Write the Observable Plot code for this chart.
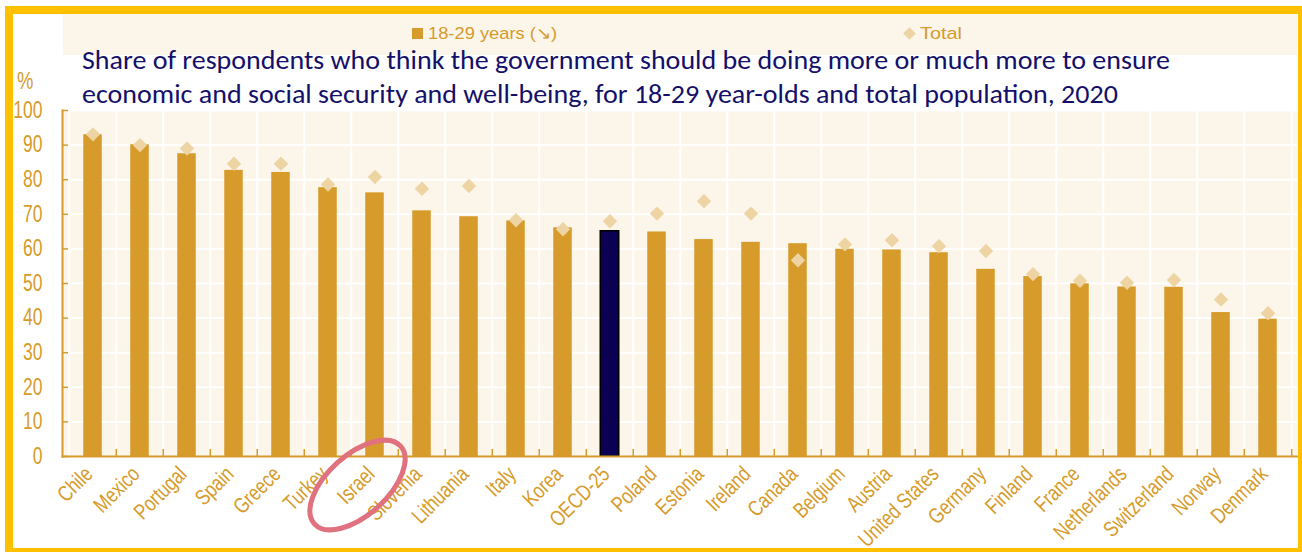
<!DOCTYPE html>
<html>
<head>
<meta charset="utf-8">
<script src="https://cdn.jsdelivr.net/npm/d3@7"></script>
<script src="https://cdn.jsdelivr.net/npm/@observablehq/plot@0.6"></script>
<style>
  html, body { margin: 0; padding: 0; background: #ffffff; }
  body { width: 1302px; height: 552px; overflow: hidden; position: relative; }
  #chart { position: absolute; left: 0; top: 0; }
  #frame { position: absolute; left: 5px; top: 6px; width: 1301px; height: 550px; box-sizing: border-box;
           border: 8px solid #FFC000; pointer-events: none; z-index: 5; }
  #legendband { position: absolute; left: 63px; top: 14px; width: 1234px; height: 41px; background: #FBF5EA; }
  .legitem { position: absolute; top: 24px; height: 19px; line-height: 19px; white-space: nowrap;
             font-family: "Liberation Sans", Arial, sans-serif; transform-origin: 0 50%;
             font-size: 17px; color: #D69B2A; width: max-content; }
  .sw { position: absolute; }
  .tline { position: absolute; left: 82px; color: #14106A; white-space: nowrap; transform-origin: 0 0; width: max-content;
           font-family: Carlito, Calibri, Lato, "Open Sans", sans-serif; font-size: 26px; line-height: 26px; height: 26px; }
  #pct { position: absolute; left: 17px; top: 68px; color: #D69B2A; transform: scaleX(0.8); transform-origin: 0 0;
         font-family: "Liberation Sans", Arial, sans-serif; font-size: 23px; }
</style>
</head>
<body>
<div id="chart"></div>
<div id="legendband"></div>
<div id="pct">%</div>
<div id="frame"></div>
<script>
// ---------------- data ----------------
const countries = ["Chile","Mexico","Portugal","Spain","Greece","Turkey","Israel","Slovenia","Lithuania","Italy","Korea","OECD-25","Poland","Estonia","Ireland","Canada","Belgium","Austria","United States","Germany","Finland","France","Netherlands","Switzerland","Norway","Denmark"];
const youth = [93.0,90.1,87.5,82.7,82.1,77.7,76.2,71.0,69.3,68.1,66.1,65.1,64.9,62.7,61.9,61.5,59.9,59.7,58.9,54.1,52.0,49.9,49.0,48.9,41.6,39.7];
const total = [93.1,90.0,89.0,84.6,84.6,78.6,80.8,77.4,78.2,68.3,65.7,68.0,70.2,73.8,70.2,56.7,61.3,62.5,60.8,59.4,52.7,50.8,50.2,51.0,45.4,41.4];
const yTicks = [0,10,20,30,40,50,60,70,80,90,100];
const seriesNames = ["18-29 years (\u2198)", "Total"];
const highlight = "OECD-25";
const annotated = "Israel";
const titleLines = [
  "Share of respondents who think the government should be doing more or much more to ensure",
  "economic and social security and well-being, for 18-29 year-olds and total population, 2020"
];

// ---------------- style ----------------
const gold = "#D69B2A";
const navy = "#0C0053";
const cream = "#FBF5EA";
const diamondFill = "#EED4A3";
const sans = "'Liberation Sans', Arial, sans-serif";

const W = 1302, H = 552, mL = 62, mR = 5, mT = 110, mB = 96;
const step = (W - mL - mR) / countries.length;
const barInset = (step - 19) / 2;

const data = countries.map((c, i) => ({c, youth: youth[i], total: total[i]}));
const last = countries[countries.length - 1];

const plot = Plot.plot({
  width: W, height: H,
  marginLeft: mL, marginRight: mR, marginTop: mT, marginBottom: mB,
  style: {background: "transparent", fontFamily: sans, overflow: "visible"},
  x: {domain: countries, padding: 0, axis: null},
  y: {domain: [0, 100], axis: null},
  marks: [
    Plot.frame({fill: cream, stroke: null}),
    // horizontal white grid
    Plot.ruleY(yTicks.slice(1), {stroke: "white", strokeWidth: 2}),
    // vertical white grid at band boundaries
    Plot.ruleX(countries, {x: d => d, dx: -step / 2, stroke: "white", strokeWidth: 2}),
    Plot.ruleX([last], {x: d => d, dx: step / 2, stroke: "white", strokeWidth: 2}),
    // bars
    Plot.barY(data, {filter: d => d.c !== highlight, x: "c", y: "youth", fill: gold,
                     insetLeft: barInset, insetRight: barInset}),
    Plot.barY(data, {filter: d => d.c === highlight, x: "c", y: "youth", fill: navy,
                     stroke: "#000", strokeWidth: 1.5, insetLeft: barInset, insetRight: barInset}),
    // total diamonds
    Plot.dot(data, {x: "c", y: "total", symbol: "diamond2", r: 6.5, fill: diamondFill, stroke: null}),
    // axes lines
    Plot.frame({anchor: "left", stroke: gold, strokeWidth: 2}),
    Plot.frame({anchor: "bottom", stroke: gold, strokeWidth: 2}),
    // bottom inner ticks between categories
    Plot.ruleX(countries.slice(1), {x: d => d, dx: -step / 2, y1: 0, y2: 2, stroke: gold, strokeWidth: 1.5}),
    Plot.ruleX([last], {x: d => d, dx: step / 2, y1: 0, y2: 2, stroke: gold, strokeWidth: 1.5}),
    // y axis
    Plot.axisY(yTicks, {anchor: "left", tickSize: -6, tickPadding: 26, fontSize: 23,
                        color: gold, label: null, strokeWidth: 1.5}),
    // x labels
    Plot.text(countries, {x: d => d, frameAnchor: "bottom", rotate: -45, textAnchor: "end",
                          lineAnchor: "middle", dx: -4, dy: 14, fontSize: 22, fill: gold})
  ]
});
document.getElementById("chart").appendChild(plot);

// condensed look (Arial Narrow-like) for axis texts
function narrow(sel, k) {
  d3.select(plot).selectAll(sel).each(function() {
    const l = this.getComputedTextLength();
    this.setAttribute("textLength", l * k);
    this.setAttribute("lengthAdjust", "spacingAndGlyphs");
  });
}
narrow("g[aria-label='y-axis tick label'] text", 0.76);
narrow("g[aria-label='text'] text", 0.78);

// annotation ellipse around the highlighted label
{
  const xs = plot.scale("x");
  const cx = xs.apply(annotated) + xs.bandwidth / 2 - 17;
  const cy = H - mB + 29;
  d3.select(plot).append("ellipse")
    .attr("cx", cx).attr("cy", cy).attr("rx", 58).attr("ry", 30)
    .attr("transform", `rotate(-42 ${cx} ${cy})`)
    .attr("fill", "none").attr("stroke", "#E0717F").attr("stroke-width", 5);
}

// legend
{
  const lx = [412, 904];
  const textW = [129, 42];
  seriesNames.forEach((name, i) => {
    const sw = document.createElement("div");
    sw.className = "sw";
    if (i === 0) {
      Object.assign(sw.style, {left: lx[i] + "px", top: "28px", width: "11px", height: "11px", background: gold});
    } else {
      Object.assign(sw.style, {left: (lx[i] + 1) + "px", top: "29px", width: "9px", height: "9px",
                               background: diamondFill, transform: "rotate(45deg)"});
    }
    document.body.appendChild(sw);
    const t = document.createElement("div");
    t.className = "legitem";
    t.textContent = name;
    t.style.left = (lx[i] + 16) + "px";
    document.body.appendChild(t);
    const w = t.getBoundingClientRect().width;
    t.style.transform = `scaleX(${textW[i] / w})`;
  });
}

// title
{
  const tops = [47, 81];
  const divs = titleLines.map((s, i) => {
    const d = document.createElement("div");
    d.className = "tline";
    d.textContent = s;
    d.style.top = tops[i] + "px";
    document.body.appendChild(d);
    return d;
  });
  const target = 1088;
  const w = divs[0].getBoundingClientRect().width;
  const k = target / w;
  divs.forEach(d => d.style.transform = `scaleX(${k})`);
}
</script>
</body>
</html>
